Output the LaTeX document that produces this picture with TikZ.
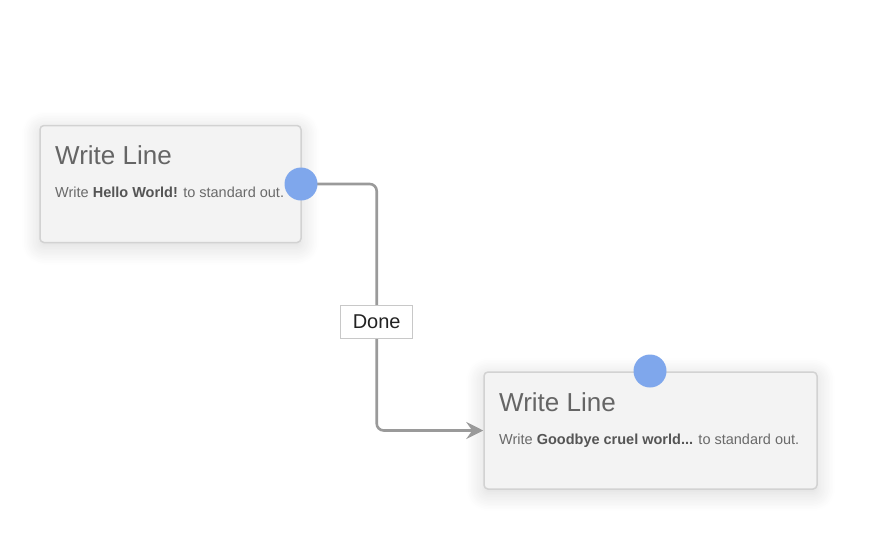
\documentclass[tikz,border=0pt]{standalone}
\usepackage{fontspec}
\setmainfont{Liberation Sans}
\usetikzlibrary{arrows.meta,shadows.blur}
\definecolor{cardfill}{HTML}{F3F3F3}
\definecolor{cardline}{HTML}{D2D2D2}
\definecolor{portblue}{HTML}{7FA7EC}
\definecolor{connline}{HTML}{9A9A9A}
\definecolor{titlegray}{HTML}{656565}
\definecolor{bodygray}{HTML}{6A6A6A}
\definecolor{boldgray}{HTML}{555555}
\definecolor{donetext}{HTML}{222222}
\definecolor{doneline}{HTML}{C8C8C8}
\tikzset{
  card/.style={draw=cardline, line width=1.5pt, fill=cardfill, rounded corners=4pt,
    rectangle, inner sep=0pt,
    blur shadow={shadow xshift=0pt, shadow yshift=-4pt, shadow blur radius=18pt,
      shadow blur steps=12, shadow opacity=16}},
  cardtitle/.style={anchor=base west, inner sep=0pt, text=titlegray, font=\fontsize{26}{30}\selectfont},
  cardbody/.style={anchor=base west, inner sep=0pt, text=bodygray, font=\fontsize{14.5}{17}\selectfont},
  port/.style={circle, fill=portblue, draw=none, minimum size=33pt, inner sep=0pt},
  conn/.style={draw=connline, line width=2.6pt, rounded corners=7pt,
    -{Stealth[length=17pt,width=17pt,inset=6pt]}},
  donebox/.style={draw=doneline, line width=1.5pt, fill=white, minimum width=72pt, minimum height=33pt,
    inner sep=0pt, text=donetext, font=\fontsize{20}{24}\selectfont},
}
\begin{document}
\begin{tikzpicture}[x=1pt,y=-1pt]
  \useasboundingbox (0,0) rectangle (874,533);
  % cards
  \node[card, minimum width=261pt, minimum height=117pt] (box1) at (170.5,184) {};
  \node[card, minimum width=333pt, minimum height=117pt] (box2) at (650.5,430.5) {};
  % texts
  \node[cardtitle] (t1) at (55,164) {Write Line};
  \node[cardbody] (b1) at (55,197) {Write \textcolor{boldgray}{\textbf{Hello World!}} to standard out.};
  \node[cardtitle] (t2) at (499,411) {Write Line};
  \node[cardbody] (b2) at (499,444.5) {Write \textcolor{boldgray}{\textbf{Goodbye cruel world...}} to standard out.};
  % ports
  \coordinate (p1) at (301,184);
  \coordinate (p2) at (650,371);
  \coordinate (bend) at (376.7,322);
  % connector
  \draw[conn] (p1) -| (bend) |- (box2.west);
  \node[port] (c1) at (p1) {};
  \node[port] (c2) at (p2) {};
  \node[donebox] (done) at (bend) {Done};
\end{tikzpicture}
\end{document}
